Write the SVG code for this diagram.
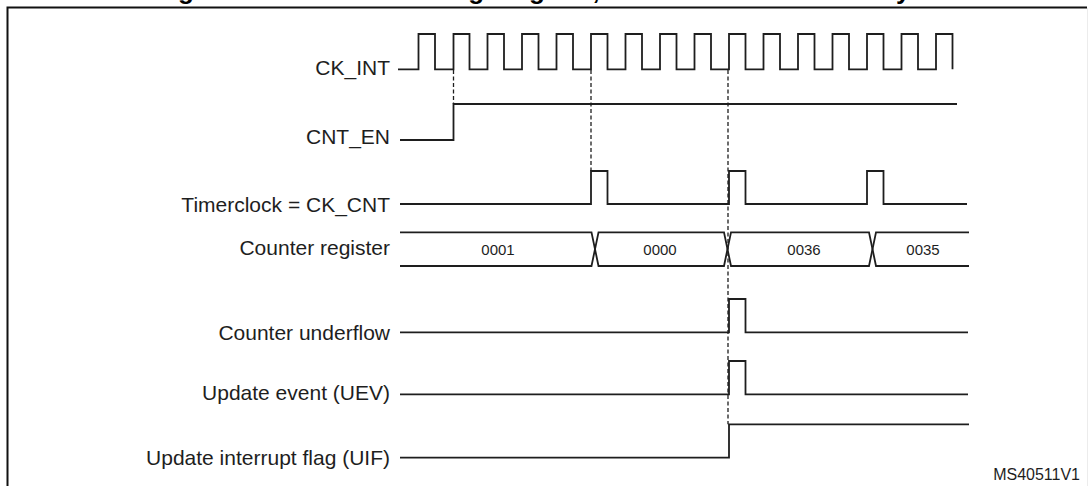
<svg xmlns="http://www.w3.org/2000/svg" width="1089" height="486" viewBox="0 0 1089 486">
<style>
.sig{fill:none;stroke:#1e1e1e;stroke-width:1.8;stroke-linejoin:miter;stroke-linecap:butt}
.dash{fill:none;stroke:#1e1e1e;stroke-width:1.3;stroke-dasharray:4 2.5}
.lbl{font-family:"Liberation Sans",Arial,sans-serif;font-size:21px;fill:#1e1e1e;text-anchor:end}
.val{font-family:"Liberation Sans",Arial,sans-serif;font-size:15px;fill:#1e1e1e;text-anchor:middle}
.title{font-family:"Liberation Sans",Arial,sans-serif;font-size:26px;font-weight:bold;fill:#000;text-anchor:middle}
</style>
<rect width="1089" height="486" fill="#fff"/>
<text class="title" x="543.5" y="-1.5">Figure 133. Counter timing diagram, internal clock divided by 1</text>
<g id="frame">
<path d="M7.5 486 V7.5 H1087" fill="none" stroke="#111" stroke-width="2"/>
<line x1="1087.5" y1="8" x2="1087.5" y2="486" stroke="#ececec" stroke-width="1"/>
</g>
<g id="ck_int">
<text class="lbl" x="390" y="75">CK_INT</text>
<path class="sig" d="M398 69.3 H418.5 V34 H435 V69.3 H453.5 V34 H469.5 V69.3 H487.5 V34 H504 V69.3 H522 V34 H538.5 V69.3 H556.5 V34 H573 V69.3 H591 V34 H607.5 V69.3 H625.5 V34 H642 V69.3 H660 V34 H676.5 V69.3 H694.5 V34 H711 V69.3 H729 V34 H745.5 V69.3 H763.5 V34 H780 V69.3 H798 V34 H814.5 V69.3 H832.5 V34 H849 V69.3 H867 V34 H883.5 V69.3 H901.5 V34 H918 V69.3 H936 V34 H952.5 V69.3"/>
</g>
<g id="cnt_en">
<text class="lbl" x="390" y="144">CNT_EN</text>
<path class="sig" d="M400 140 H453.5 V104 H957"/>
</g>
<g id="timerclock">
<text class="lbl" x="390" y="211.5">Timerclock = CK_CNT</text>
<path class="sig" d="M400 204 H591 V171 H607.5 V204 H729 V171 H745.5 V204 H867 V171 H883.5 V204 H967"/>
</g>
<g id="counter_register">
<text class="lbl" x="390" y="255">Counter register</text>
<path class="sig" d="M400 232.3 H591.5 L598.5 266 H724 L731 232.3 H869 L876 266 H969"/>
<path class="sig" d="M400 266 H591.5 L598.5 232.3 H724 L731 266 H869 L876 232.3 H969"/>
<text class="val" x="498" y="255">0001</text>
<text class="val" x="660" y="255">0000</text>
<text class="val" x="804" y="255">0036</text>
<text class="val" x="923" y="255">0035</text>
</g>
<g id="counter_underflow">
<text class="lbl" x="390" y="340">Counter underflow</text>
<path class="sig" d="M400 332.3 H729 V299 H745.5 V332.3 H968"/>
</g>
<g id="update_event">
<text class="lbl" x="390" y="400">Update event (UEV)</text>
<path class="sig" d="M400 394.3 H729 V361 H745.5 V394.3 H968"/>
</g>
<g id="uif">
<text class="lbl" x="390" y="465">Update interrupt flag (UIF)</text>
<path class="sig" d="M400 457.7 H729 V424.3 H969"/>
</g>
<g id="connectors">
<line class="dash" x1="453.5" y1="70" x2="453.5" y2="104"/>
<line class="dash" x1="591" y1="70" x2="591" y2="171"/>
<line class="dash" x1="728" y1="70" x2="728" y2="424.3"/>
</g>
<text x="1080" y="480" font-family="'Liberation Sans',Arial,sans-serif" font-size="16" fill="#1e1e1e" text-anchor="end">MS40511V1</text>
</svg>
